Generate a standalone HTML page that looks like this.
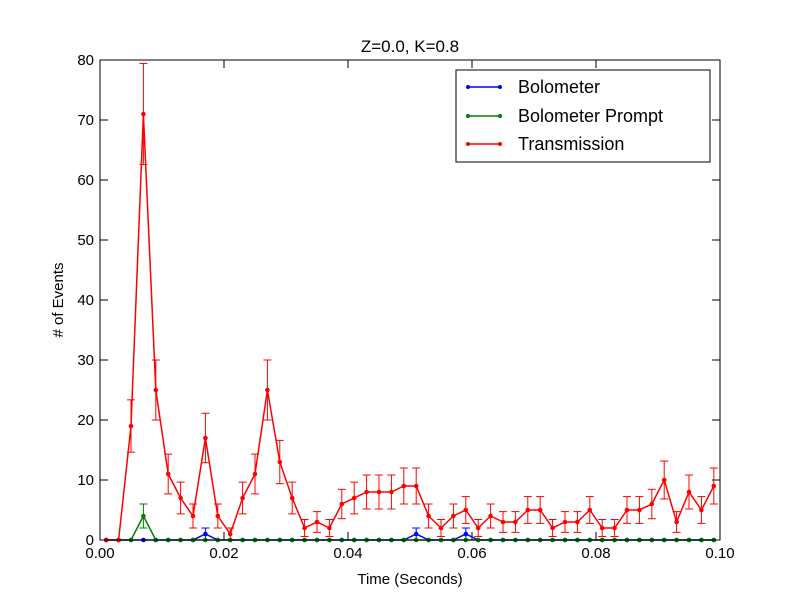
<!DOCTYPE html>
<html><head><meta charset="utf-8"><style>
body{margin:0;background:#fff;}
svg{display:block;font-family:"Liberation Sans","DejaVu Sans",sans-serif;}
</style></head><body>
<svg id="chart" width="800" height="600">
<rect width="800" height="600" fill="#fff"/>
<text x="410" y="52" font-size="17" text-anchor="middle">Z=0.0, K=0.8</text>
<text x="410" y="584" font-size="15" text-anchor="middle">Time (Seconds)</text>
<text x="63" y="300" font-size="15" text-anchor="middle" transform="rotate(-90 63 300)"># of Events</text>
<g id="ticks"></g>
<g id="series"></g>
<rect x="100" y="60" width="620" height="480" fill="none" stroke="#000" stroke-width="1"/>
<g>
<rect x="456" y="70" width="254" height="92" fill="#fff" stroke="#000"/>
<g><line x1="468" y1="87" x2="500" y2="87" stroke="#0000ff" stroke-width="1.5"/><circle cx="468" cy="87" r="2" fill="#0000ff"/><circle cx="500" cy="87" r="2" fill="#0000ff"/><text x="518" y="93" font-size="18">Bolometer</text></g>
<g><line x1="468" y1="116" x2="500" y2="116" stroke="#007f00" stroke-width="1.5"/><circle cx="468" cy="116" r="2" fill="#007f00"/><circle cx="500" cy="116" r="2" fill="#007f00"/><text x="518" y="122" font-size="18">Bolometer Prompt</text></g>
<g><line x1="468" y1="144" x2="500" y2="144" stroke="#ff0000" stroke-width="1.5"/><circle cx="468" cy="144" r="2" fill="#ff0000"/><circle cx="500" cy="144" r="2" fill="#ff0000"/><text x="518" y="150" font-size="18">Transmission</text></g>
</g>
</svg>
<script>
const times = Array.from({length:50},(_,i)=>0.001+0.002*i);
const transmission = [0,0,19,71,25,11,7,4,17,4,1,7,11,25,13,7,2,3,2,6,7,8,8,8,9,9,4,2,4,5,2,4,3,3,5,5,2,3,3,5,2,2,5,5,6,10,3,8,5,9];
const bolometer = [0,0,0,0,0,0,0,0,1,0,0,0,0,0,0,0,0,0,0,0,0,0,0,0,0,1,0,0,0,1,0,0,0,0,0,0,0,0,0,0,0,0,0,0,0,0,0,0,0,0];
const bolometerPrompt = [0,0,0,4,0,0,0,0,0,0,0,0,0,0,0,0,0,0,0,0,0,0,0,0,0,0,0,0,0,0,0,0,0,0,0,0,0,0,0,0,0,0,0,0,0,0,0,0,0,0];
const xTicks = [0,0.02,0.04,0.06,0.08,0.1];
const xTickLabels = ["0.00","0.02","0.04","0.06","0.08","0.10"];
const yTicks = [0,10,20,30,40,50,60,70,80];
const NS='http://www.w3.org/2000/svg';
const X=v=>100+v/0.1*620, Y=v=>540-v/80*480;
function mk(tag,attrs,parent){const e=document.createElementNS(NS,tag);for(const k in attrs)e.setAttribute(k,attrs[k]);parent.appendChild(e);return e;}
const tg=document.getElementById('ticks');
xTicks.forEach((t,i)=>{
  const g=mk('g',{},tg);
  
  
  mk('line',{x1:X(t),x2:X(t),y1:540,y2:532,stroke:'#000'},g);
  mk('line',{x1:X(t),x2:X(t),y1:60,y2:68,stroke:'#000'},g);
  const tx=mk('text',{x:X(t),y:558,'font-size':15,'text-anchor':'middle'},g);tx.textContent=xTickLabels[i];
});
yTicks.forEach(t=>{
  const g=mk('g',{},tg);
  
  
  mk('line',{x1:100,x2:108,y1:Y(t),y2:Y(t),stroke:'#000'},g);
  mk('line',{x1:720,x2:712,y1:Y(t),y2:Y(t),stroke:'#000'},g);
  const tx=mk('text',{x:94,y:Y(t)+5,'font-size':15,'text-anchor':'end'},g);tx.textContent=t;
});
const sg=document.getElementById('series');
function series(vals,color,name){
  const g=mk('g',{},sg);
  
  
  mk('polyline',{points:vals.map((v,i)=>X(times[i])+','+Y(v)).join(' '),fill:'none',stroke:color,'stroke-width':1.5},g);
  vals.forEach((v,i)=>{
    const e=Math.sqrt(v),x=X(times[i]);
    if(e>0){
      mk('line',{x1:x,x2:x,y1:Y(v-e),y2:Y(v+e),stroke:color,'stroke-width':1},g);
      mk('line',{x1:x-4,x2:x+4,y1:Y(v-e),y2:Y(v-e),stroke:color,'stroke-width':1},g);
      mk('line',{x1:x-4,x2:x+4,y1:Y(v+e),y2:Y(v+e),stroke:color,'stroke-width':1},g);
    }
    const c=mk('circle',{cx:x,cy:Y(v),r:2.3,fill:color},g);
    
    
  });
}
series(bolometer,'#0000ff','bolometer-series');
series(bolometerPrompt,'#007f00','bolometer-prompt-series');
series(transmission,'#ff0000','transmission-series');
</script>
</body></html>
